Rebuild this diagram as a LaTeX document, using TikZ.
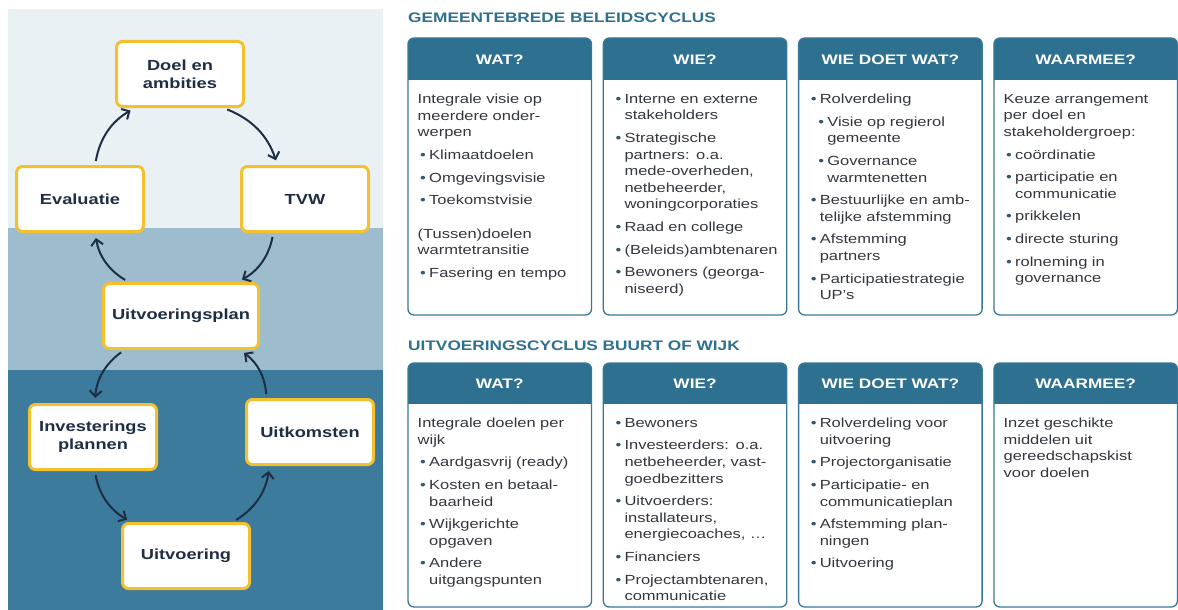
\documentclass[tikz,border=0pt]{standalone}
\usepackage{fontspec}
\setmainfont[FakeStretch=1.25]{Liberation Sans}
\usetikzlibrary{arrows.meta}
\definecolor{panlicht}{HTML}{E9F1F5}
\definecolor{panmid}{HTML}{9DBDCE}
\definecolor{pandonker}{HTML}{3C7B9B}
\definecolor{geel}{HTML}{F3C12F}
\definecolor{navy}{HTML}{1D2E45}
\definecolor{kopblauw}{HTML}{2E7090}
\definecolor{rand}{HTML}{3A7898}
\definecolor{tekstgrijs}{HTML}{33383E}
\definecolor{bul}{HTML}{35566B}
\setlength{\parindent}{0pt}
\newcommand{\nl}{\hfil\break}
% bolletje, eerste bolletje (zonder \par), sub-bolletje
\newcommand{\bol}{\hangindent=11.5pt\hangafter=1\noindent\hspace*{2.5pt}\makebox[9pt][l]{\color{bul}\textbullet}}
\newcommand{\itm}{\par\bol}
\newcommand{\sitm}{\par\hangindent=19pt\hangafter=1\noindent\hspace*{10pt}\makebox[9pt][l]{\color{bul}\textbullet}}
\newcommand{\gap}{\par\vspace{11pt}}
\begin{document}
\begin{tikzpicture}[x=1pt,y=-1pt,
  stap/.style={draw=geel, line width=3pt, fill=white, rounded corners=6pt, minimum width=127pt, minimum height=65pt, align=center, text=navy, inner sep=2pt, font=\fontsize{14.6}{18}\selectfont\bfseries},
  pijl/.style={draw=navy, line width=2pt, -{Straight Barb[length=6pt,width=12pt]}, shorten <=4pt, shorten >=5pt},
  kop/.style={anchor=base, text=white, inner sep=0pt, font=\fontsize{13.8}{16}\selectfont\bfseries},
  titel/.style={anchor=base west, text=kopblauw, inner sep=0pt, font=\fontsize{13.8}{16}\selectfont\bfseries},
  tekst/.style={anchor=north west, inner sep=0pt, text width=172pt, align=left, text=tekstgrijs, font=\fontsize{13.2}{16.6}\selectfont,
    execute at begin node={\setlength{\parskip}{6pt}}}]
\useasboundingbox (0,0) rectangle (1178,610);
% achtergrond links
\fill[panlicht] (8,9) rectangle (383,228);
\fill[panmid] (8,228) rectangle (383,370);
\fill[pandonker] (8,370) rectangle (383,610);
% cyclus
\node[stap] (doel) at (180,74) {Doel en\\ambities};
\node[stap] (tvw) at (305,199) {TVW};
\node[stap] (eval) at (80,199) {Evaluatie};
\node[stap, minimum width=155pt] (uplan) at (181,316) {Uitvoeringsplan};
\node[stap] (invest) at (93,437) {Investerings\\plannen};
\node[stap] (uitkomst) at (310,432) {Uitkomsten};
\node[stap] (uitvoer) at (186,556) {Uitvoering};
\draw[pijl] (doel.-38) to[bend left=25] (tvw.129);
\draw[pijl] (tvw.-133) to[bend left=25] (uplan.31);
\draw[pijl] (uplan.147) to[bend left=25] (eval.-66);
\draw[pijl] (eval.66) to[bend left=25] (doel.-143);
\draw[pijl] (uplan.-149) to[bend right=25] (invest.87);
\draw[pijl] (invest.-87) to[bend right=25] (uitvoer.148);
\draw[pijl] (uitvoer.36) to[bend right=25] (uitkomst.-140);
\draw[pijl] (uitkomst.142) to[bend right=25] (uplan.-30);
% kaarten
\node[titel] (titel1) at (408,23) {GEMEENTEBREDE BELEIDSCYCLUS};
\node[titel] (titel2) at (408,350) {UITVOERINGSCYCLUS BUURT OF WIJK};
\foreach \rij/\yt/\yk/\yb in {1/38/80/315, 2/363/404/607}{
  \foreach \kol/\kt in {0/WAT?, 1/WIE?, 2/WIE DOET WAT?, 3/WAARMEE?}{
    \pgfmathsetmacro{\xl}{408+195.3*\kol}
    \pgfmathsetmacro{\xr}{\xl+183.5}
    \fill[white, rounded corners=6pt] (\xl,\yt) rectangle (\xr,\yb);
    \fill[kopblauw, rounded corners=6pt] (\xl,\yt) rectangle (\xr,\yk+10);
    \fill[white] (\xl,\yk) rectangle (\xr,\yk+11);
    \draw[rand, line width=1.3pt, rounded corners=6pt] (\xl,\yt) rectangle (\xr,\yb);
    \node[kop] (kop\rij\kol) at ({(\xl+\xr)/2},\yk-16) {\kt};
  }
}
% teksten rij 1
\node[tekst] (wat1) at (417.5,94) {Integrale visie op\nl meerdere onder-\nl werpen
  \itm Klimaatdoelen
  \itm Omgevingsvisie
  \itm Toekomstvisie
  \gap (Tussen)doelen\nl warmtetransitie
  \itm Fasering en tempo\par};
\node[tekst] (wie1) at (612.8,94) {\bol Interne en externe\nl stakeholders
  \itm Strategische\nl partners: o.a.\nl mede-overheden,\nl netbeheerder,\nl woningcorporaties
  \itm Raad en college
  \itm (Beleids)ambtenaren
  \itm Bewoners (georga-\nl niseerd)\par};
\node[tekst] (wdw1) at (808.1,94) {\bol Rolverdeling
  \sitm Visie op regierol\nl gemeente
  \sitm Governance\nl warmtenetten
  \itm Bestuurlijke en amb-\nl telijke afstemming
  \itm Afstemming\nl partners
  \itm Participatiestrategie\nl UP’s\par};
\node[tekst] (waar1) at (1003.4,94) {Keuze arrangement\nl per doel en\nl stakeholdergroep:
  \itm coördinatie
  \itm participatie en\nl communicatie
  \itm prikkelen
  \itm directe sturing
  \itm rolneming in\nl governance\par};
% teksten rij 2
\node[tekst] (wat2) at (417.5,418) {Integrale doelen per\nl wijk
  \itm Aardgasvrij (ready)
  \itm Kosten en betaal-\nl baarheid
  \itm Wijkgerichte\nl opgaven
  \itm Andere\nl uitgangspunten\par};
\node[tekst] (wie2) at (612.8,418) {\bol Bewoners
  \itm Investeerders: o.a.\nl netbeheerder, vast-\nl goedbezitters
  \itm Uitvoerders:\nl installateurs,\nl energiecoaches, …
  \itm Financiers
  \itm Projectambtenaren,\nl communicatie\par};
\node[tekst] (wdw2) at (808.1,418) {\bol Rolverdeling voor\nl uitvoering
  \itm Projectorganisatie
  \itm Participatie- en\nl communicatieplan
  \itm Afstemming plan-\nl ningen
  \itm Uitvoering\par};
\node[tekst] (waar2) at (1003.4,418) {Inzet geschikte\nl middelen uit\nl gereedschapskist\nl voor doelen\par};
\end{tikzpicture}
\end{document}
